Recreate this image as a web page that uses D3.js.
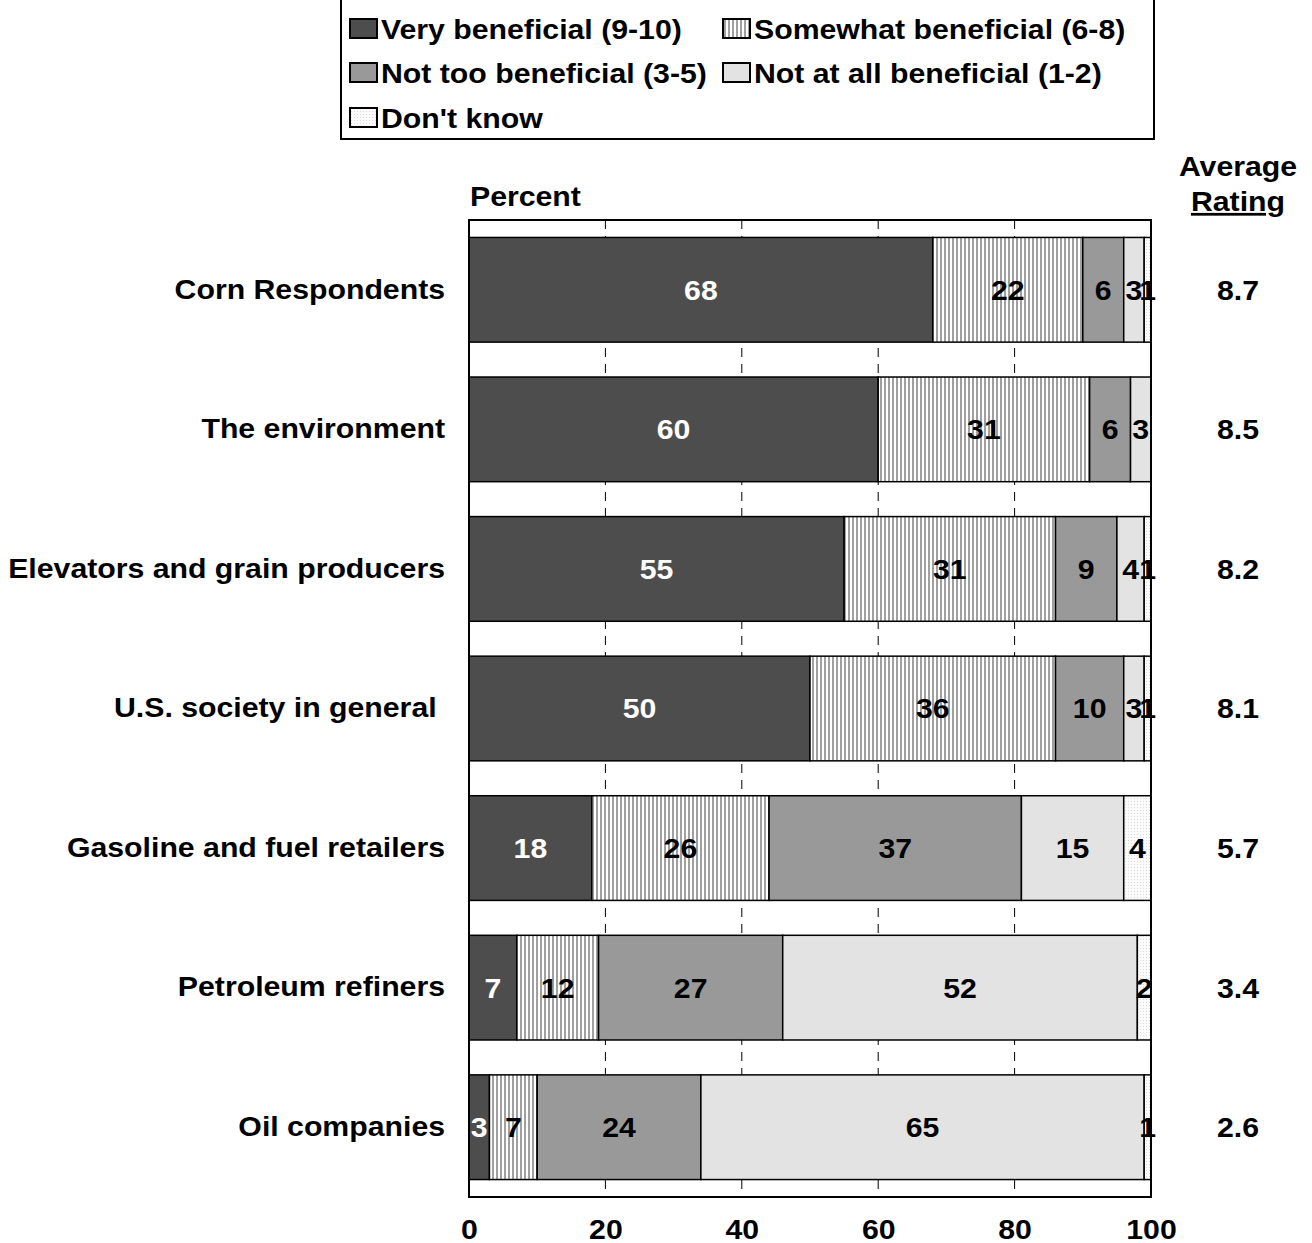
<!DOCTYPE html>
<html>
<head>
<meta charset="utf-8">
<script src="https://cdn.jsdelivr.net/npm/d3@7"></script>
<style>
  body { margin: 0; background: #fff; }
  text { font-family: "Liberation Sans", Arial, sans-serif; font-weight: bold; }
</style>
</head>
<body>
<script>
const categories = ["Corn Respondents", "The environment", "Elevators and grain producers",
  "U.S. society in general ", "Gasoline and fuel retailers", "Petroleum refiners", "Oil companies"];
const seriesNames = ["Very beneficial (9-10)", "Somewhat beneficial (6-8)", "Not too beneficial (3-5)",
  "Not at all beneficial (1-2)", "Don't know"];
const veryBeneficial = [68, 60, 55, 50, 18, 7, 3];
const somewhatBeneficial = [22, 31, 31, 36, 26, 12, 7];
const notTooBeneficial = [6, 6, 9, 10, 37, 27, 24];
const notAtAllBeneficial = [3, 3, 4, 3, 15, 52, 65];
const dontKnow = [1, 0, 1, 1, 4, 2, 1];
const averageRating = ["8.7", "8.5", "8.2", "8.1", "5.7", "3.4", "2.6"];
const xTicks = [0, 20, 40, 60, 80, 100];

const seriesValues = [veryBeneficial, somewhatBeneficial, notTooBeneficial, notAtAllBeneficial, dontKnow];
const fills = ["#4d4d4d", "url(#stripes)", "#999999", "#e3e3e3", "url(#dots)"];
const labelColors = ["#fff", "#000", "#000", "#000", "#000"];

const FS = 27.5, SX = 1.1;
const W = 1312, H = 1243;
const svg = d3.select("body").append("svg").attr("width", W).attr("height", H);
const defs = svg.append("defs");
const sp = defs.append("pattern").attr("id", "stripes").attr("patternUnits", "userSpaceOnUse")
  .attr("width", 4).attr("height", 4);
sp.append("rect").attr("width", 4).attr("height", 4).attr("fill", "#fff");
sp.append("rect").attr("width", 2).attr("height", 4).attr("fill", "#a0a0a0");
const dp = defs.append("pattern").attr("id", "dots").attr("patternUnits", "userSpaceOnUse")
  .attr("width", 3).attr("height", 3);
dp.append("rect").attr("width", 3).attr("height", 3).attr("fill", "#fbfbfb");
dp.append("rect").attr("width", 1).attr("height", 1).attr("fill", "#dcdcdc");

function label(parent, x, y, str, anchor, dy, extra) {
  const t = parent.append("g").attr("transform", `translate(${x},${y})`)
    .append("text").attr("transform", `scale(${SX},1)`)
    .attr("text-anchor", anchor || "start").attr("dy", dy || 0)
    .attr("font-size", FS).text(str);
  if (extra) extra(t);
  return t;
}

const pLeft = 469, pRight = 1151, pTop = 220, pBottom = 1197;
const x = d3.scaleLinear().domain([0, 100]).range([pLeft, pRight]);
const y = d3.scaleBand().domain(categories).range([pTop, pBottom]).paddingInner(0.25).paddingOuter(0.125);

const table = categories.map((c, i) => {
  const o = { cat: c };
  seriesNames.forEach((s, j) => o[s] = seriesValues[j][i]);
  return o;
});
const stacked = d3.stack().keys(seriesNames)(table);

// gridlines
svg.append("g").selectAll("line").data(xTicks.filter(t => t > 0 && t < 100)).join("line")
  .attr("x1", d => x(d)).attr("x2", d => x(d)).attr("y1", pTop).attr("y2", pBottom)
  .attr("stroke", "#000").attr("stroke-width", 1).attr("stroke-dasharray", "9,7");

// bars
const g = svg.append("g");
stacked.forEach((layer, j) => {
  g.append("g").selectAll("rect").data(layer.filter(d => d[1] - d[0] > 0)).join("rect")
    .attr("x", d => x(d[0])).attr("width", d => x(d[1]) - x(d[0]))
    .attr("y", d => y(d.data.cat)).attr("height", y.bandwidth())
    .attr("fill", fills[j]).attr("stroke", "#000").attr("stroke-width", 1.5);
});
stacked.forEach((layer, j) => {
  layer.filter(d => d[1] - d[0] > 0).forEach(d => {
    label(g, (x(d[0]) + x(d[1])) / 2, y(d.data.cat) + y.bandwidth() / 2, d[1] - d[0], "middle", "0.36em",
      t => t.attr("fill", labelColors[j]));
  });
});

// frame
svg.append("rect").attr("x", pLeft).attr("y", pTop).attr("width", pRight - pLeft).attr("height", pBottom - pTop)
  .attr("fill", "none").attr("stroke", "#000").attr("stroke-width", 2);

// x axis
const xAxis = svg.append("g").attr("transform", `translate(0,${pBottom})`)
  .call(d3.axisBottom(x).tickValues(xTicks).tickSize(0).tickPadding(22));
xAxis.select(".domain").remove();
xAxis.selectAll("text").attr("font-size", FS).attr("font-family", "Liberation Sans, Arial, sans-serif")
  .attr("font-weight", "bold").attr("fill", "#000").attr("transform", `scale(${SX},1)`);

// y axis labels
const pad = 24;
const yAxis = svg.append("g").attr("transform", `translate(${pLeft},0)`)
  .call(d3.axisLeft(y).tickSize(0).tickPadding(pad));
yAxis.select(".domain").remove();
yAxis.selectAll("text").attr("font-size", FS).attr("font-family", "Liberation Sans, Arial, sans-serif")
  .attr("font-weight", "bold").attr("fill", "#000").style("white-space", "pre")
  .attr("x", -pad / SX).attr("transform", `scale(${SX},1)`);

// Percent
label(svg, 470, 206, "Percent");

// Average rating
label(svg, 1238, 176, "Average", "middle");
label(svg, 1238, 211, "Rating", "middle", 0, t => t.attr("text-decoration", "underline"));
categories.forEach((c, i) => label(svg, 1238, y(c) + y.bandwidth() / 2, averageRating[i], "middle", "0.36em"));

// legend
const lg = svg.append("g");
lg.append("rect").attr("x", 341).attr("y", -1).attr("width", 813).attr("height", 140)
  .attr("fill", "#fff").attr("stroke", "#000").attr("stroke-width", 2);
const legPos = [[350, 29], [723, 29], [350, 73], [723, 73], [350, 118]];
seriesNames.forEach((s, j) => {
  const [lx, ly] = legPos[j];
  lg.append("rect").attr("x", lx).attr("y", ly - 10).attr("width", 27).attr("height", 19)
    .attr("fill", fills[j]).attr("stroke", "#000").attr("stroke-width", 2);
  label(lg, lx + 31, ly, s, "start", "0.36em");
});
</script>
</body>
</html>
